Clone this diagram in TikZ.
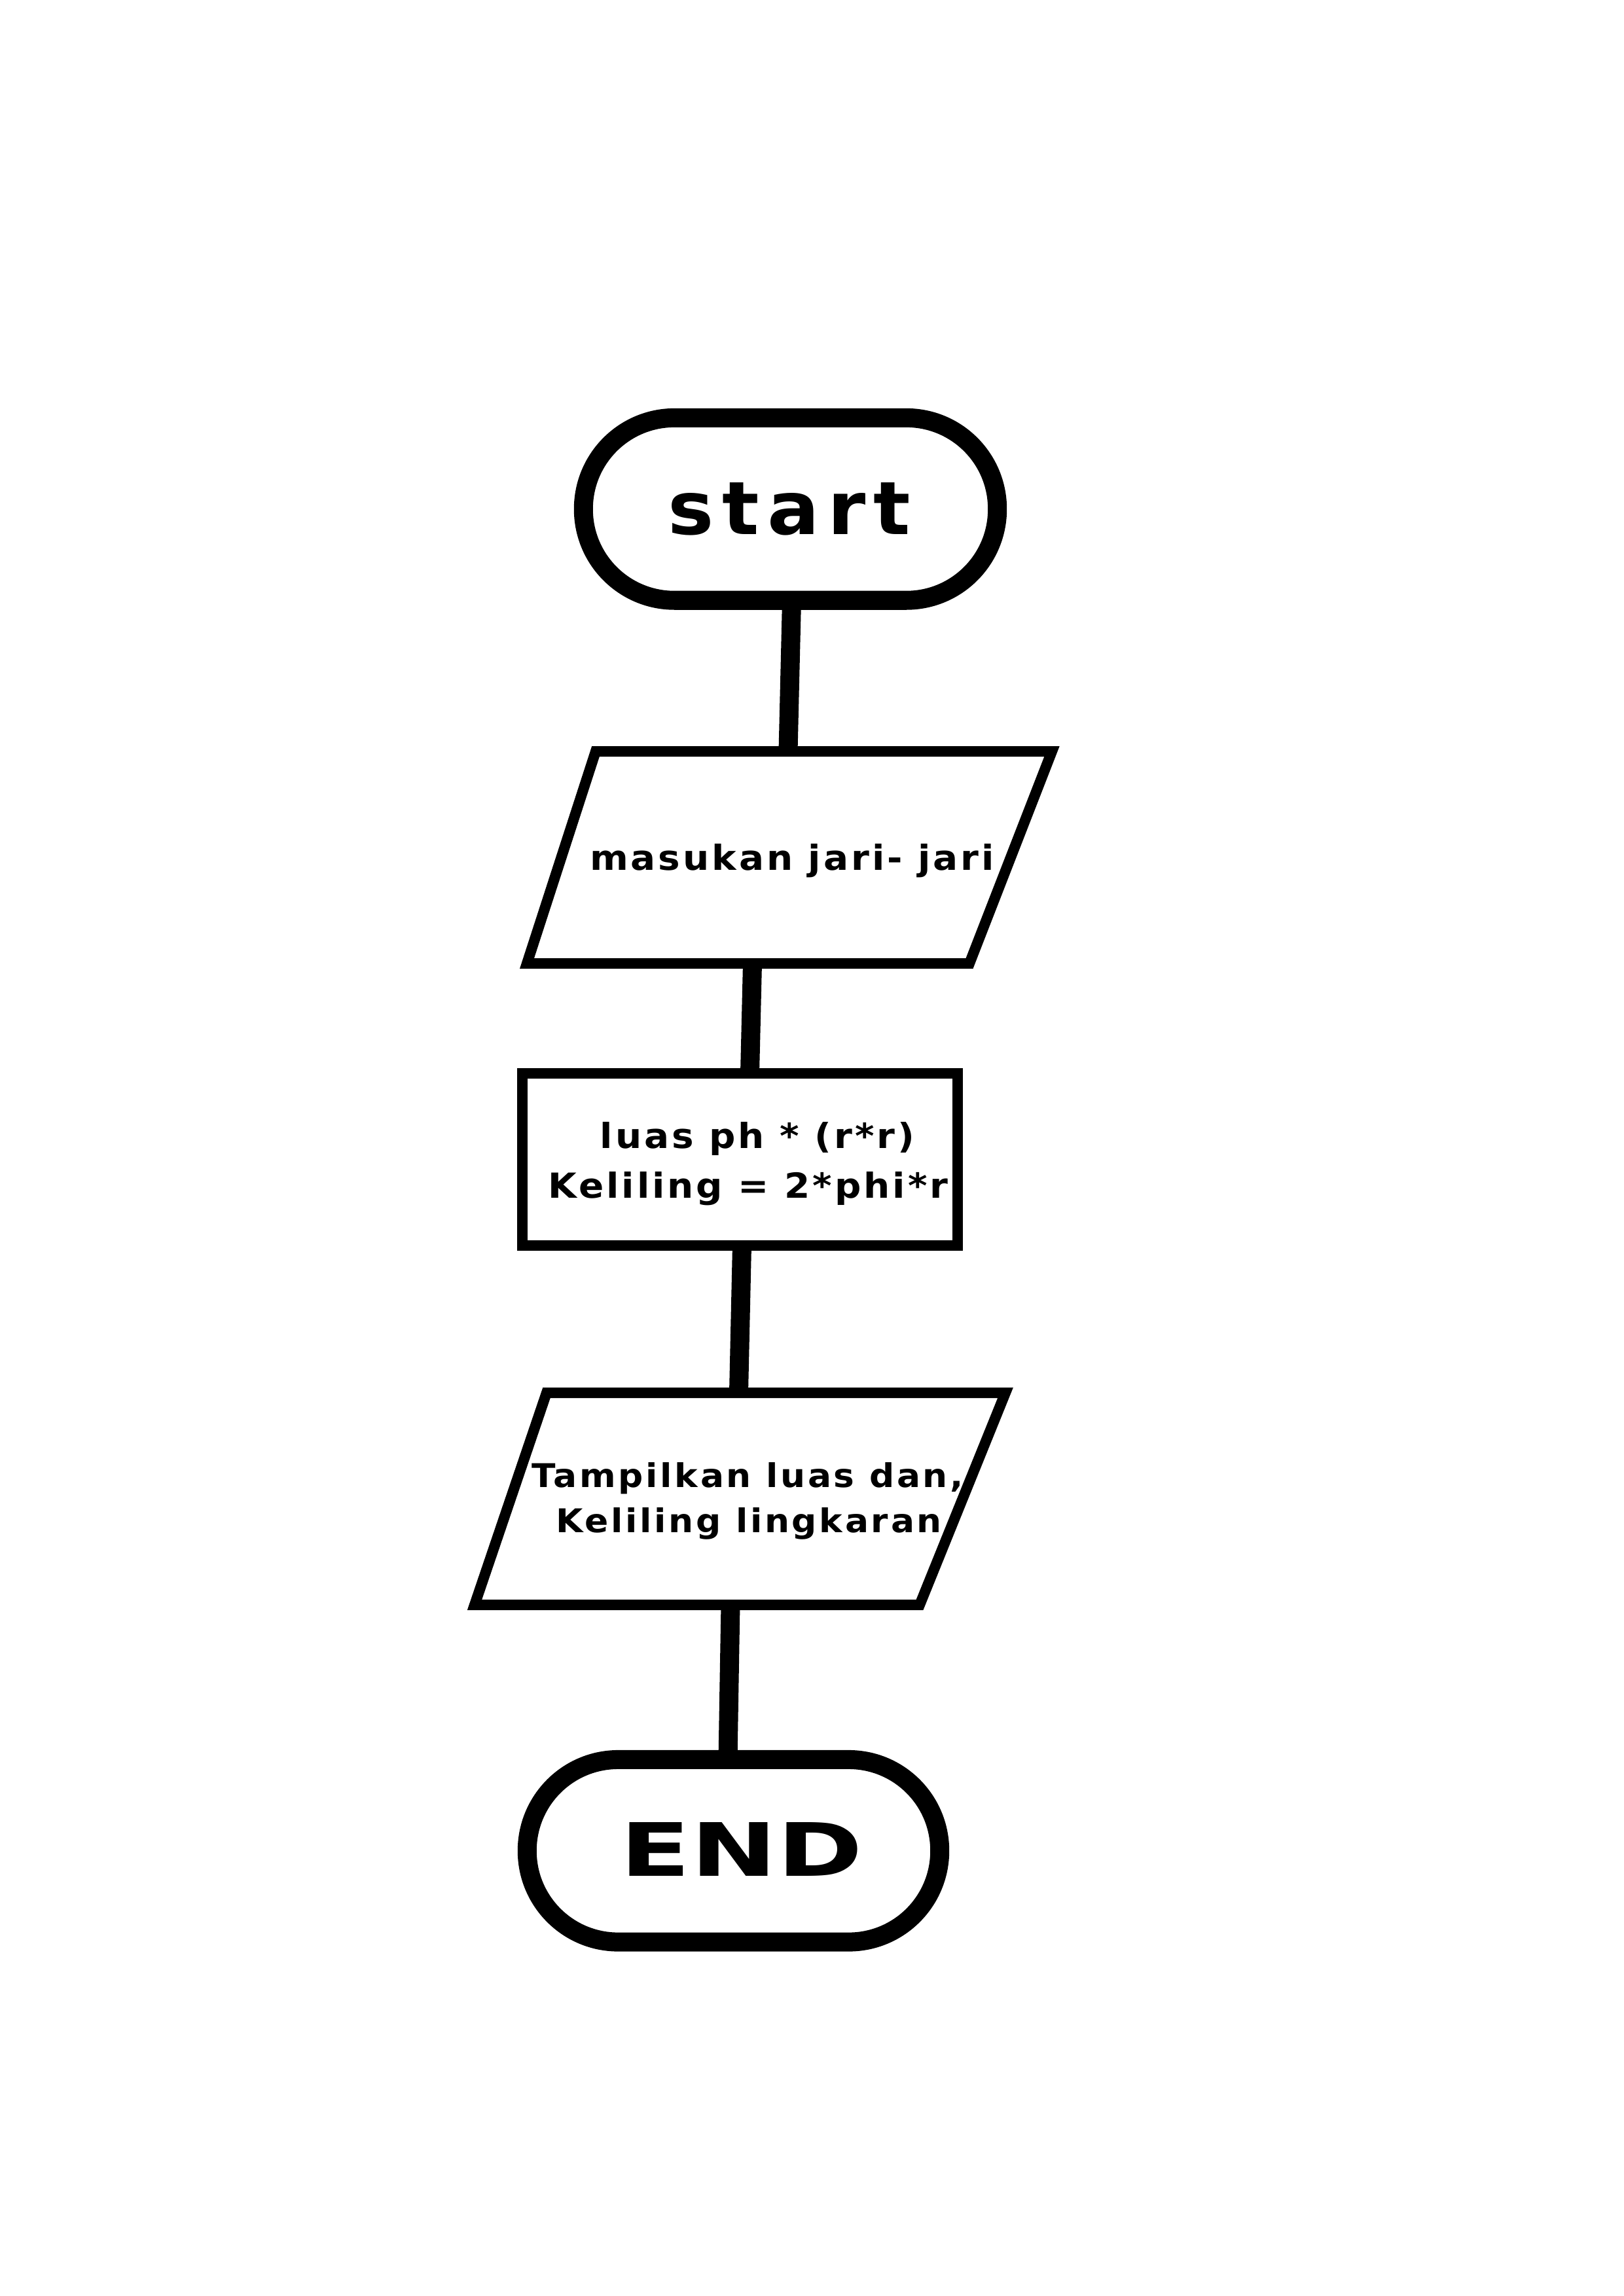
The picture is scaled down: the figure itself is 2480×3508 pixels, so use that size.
\documentclass[tikz,border=0pt]{standalone}
\usepackage{fontspec}
\setmainfont{DejaVu Sans}
\newfontfamily\boxfont[FakeStretch=1.07,LetterSpace=7.5]{DejaVu Sans}
\newfontfamily\startfont[FakeStretch=1.05,LetterSpace=11]{DejaVu Sans}
\newfontfamily\endfont[FakeStretch=1.4]{DejaVu Sans}
\begin{document}
\begin{tikzpicture}[x=0.01cm,y=-0.01cm,
  terminal/.style={draw=black, fill=white, line width=2.9mm, inner sep=0pt, rounded corners=1.39cm},
  iobox/.style={draw=black, fill=white, line width=1.6mm, line join=miter},
  procbox/.style={draw=black, fill=white, line width=1.6mm, inner sep=0pt},
  link/.style={draw=black, line width=2.9mm, line cap=butt},
  bigtxt/.style={anchor=base, inner sep=0pt, font=\startfont\bfseries\fontsize{32pt}{38pt}\selectfont},
  endtxt/.style={anchor=base, inner sep=0pt, font=\endfont\bfseries\fontsize{32pt}{38pt}\selectfont},
  boxtxt/.style={anchor=base, inner sep=0pt, font=\boxfont\bfseries\fontsize{15pt}{18pt}\selectfont},
  boxtxtb/.style={anchor=base, inner sep=0pt, font=\boxfont\bfseries\fontsize{14.2pt}{17pt}\selectfont}]
\useasboundingbox (0,0) rectangle (2480,3508);
\fill[white] (0,0) rectangle (2480,3508);
% connector end points
\coordinate (c1a) at (1209.5,917);  \coordinate (c1b) at (1204,1148);
\coordinate (c2a) at (1149.5,1472); \coordinate (c2b) at (1145.5,1640);
\coordinate (c3a) at (1133.5,1903); \coordinate (c3b) at (1128.5,2128);
\coordinate (c4a) at (1116,2452);   \coordinate (c4b) at (1112,2688);
\draw[link] (c1a) -- (c1b);
\draw[link] (c2a) -- (c2b);
\draw[link] (c3a) -- (c3b);
\draw[link] (c4a) -- (c4b);
% start
\node[terminal, minimum width=6.32cm, minimum height=2.787cm] (start) at (1207.5,777.8) {};
\node[bigtxt] (tstart) at (1206,816.7) {start};
% input
\coordinate (p1a) at (910,1148); \coordinate (p1b) at (1607,1148);
\coordinate (p1c) at (1481,1472); \coordinate (p1d) at (805,1472);
\draw[iobox] (p1a) -- (p1b) -- (p1c) -- (p1d) -- cycle;
\node[boxtxt] (tin) at (1210,1329) {masukan jari- jari};
% process
\node[procbox, minimum width=6.65cm, minimum height=2.63cm] (proc) at (1130.5,1771.5) {};
\node[boxtxt] (tp1) at (1157,1754) {luas ph * (r*r)};
\node[boxtxt] (tp2) at (1143,1830) {Keliling = 2*phi*r};
% output
\coordinate (p2a) at (835,2128); \coordinate (p2b) at (1536,2128);
\coordinate (p2c) at (1405,2452); \coordinate (p2d) at (725,2452);
\draw[iobox] (p2a) -- (p2b) -- (p2c) -- (p2d) -- cycle;
\node[boxtxtb] (to1) at (1142,2272) {Tampilkan luas dan,};
\node[boxtxtb] (to2) at (1144,2341) {Keliling lingkaran};
% end
\node[terminal, minimum width=6.30cm, minimum height=2.785cm] (end) at (1120.5,2827.75) {};
\node[endtxt] (tend) at (1133,2866.7) {END};
\end{tikzpicture}
\end{document}
